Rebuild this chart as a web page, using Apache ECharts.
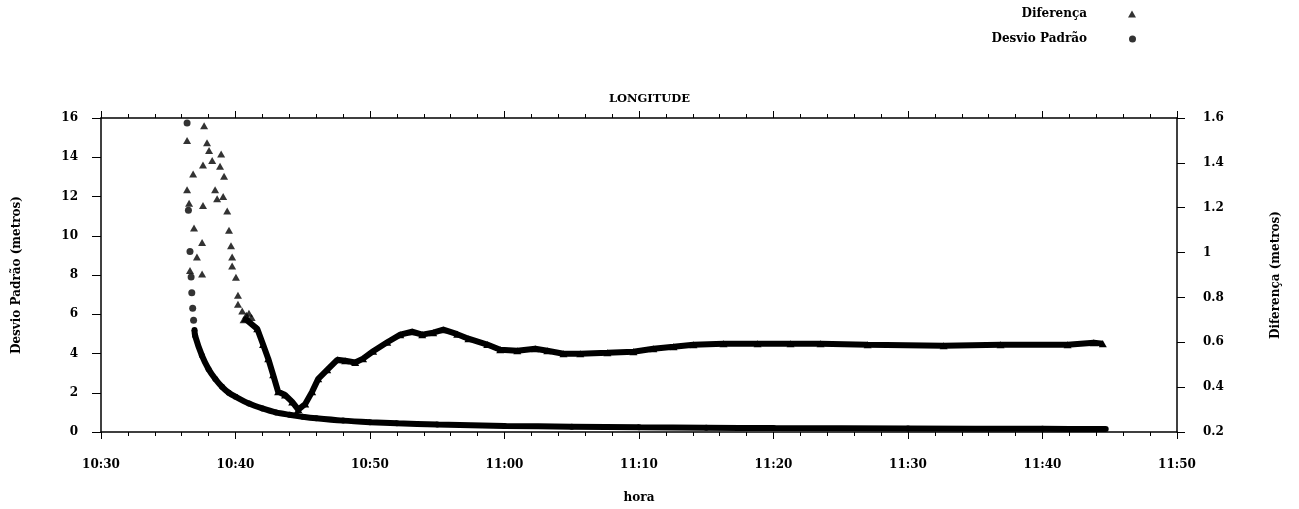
<!DOCTYPE html>
<html><head><meta charset="utf-8">
<script src="https://cdn.jsdelivr.net/npm/echarts@6/dist/echarts.min.js"></script>
<style>html,body{margin:0;padding:0;background:#fff}#c{width:1299px;height:509px}</style>
</head><body><div id="c"></div>
<script>
const chartTitle = 'LONGITUDE';
const xName = 'hora';
const leftName = 'Desvio Padrão (metros)';
const rightName = 'Diferença (metros)';
const seriesNames = ['Diferença', 'Desvio Padrão'];

// Diferença (right axis) - early scattered points
const difScatterTimes = ['10:36:24','10:36:24','10:36:33','10:36:37','10:36:51','10:36:55','10:37:08','10:37:31','10:37:31','10:37:35','10:37:35','10:37:40','10:37:53','10:38:02','10:38:16','10:38:29','10:38:38','10:38:51','10:38:56','10:39:05','10:39:09','10:39:23','10:39:31','10:39:40','10:39:45','10:39:45','10:40:02','10:40:11','10:40:11','10:40:30','10:40:36','10:40:48','10:41:00','10:41:12'];
const difScatterValues = [1.50,1.28,1.22,0.92,1.35,1.11,0.98,1.045,0.905,1.39,1.21,1.565,1.49,1.455,1.41,1.28,1.24,1.385,1.44,1.25,1.34,1.185,1.10,1.03,0.98,0.94,0.89,0.81,0.77,0.74,0.70,0.72,0.73,0.71];
// Diferença - continuous band
const difLineTimes = ['10:40:43','10:41:37','10:42:03','10:42:26','10:42:48','10:43:10','10:43:41','10:44:13','10:44:40','10:45:11','10:45:42','10:46:09','10:46:49','10:47:34','10:48:09','10:48:54','10:49:29','10:50:14','10:51:17','10:52:15','10:53:08','10:53:53','10:54:42','10:55:27','10:56:29','10:57:19','10:58:43','10:59:41','11:00:57','11:02:17','11:03:11','11:04:23','11:05:38','11:07:39','11:09:35','11:11:04','11:12:34','11:14:03','11:16:17','11:18:49','11:21:16','11:23:30','11:27:00','11:32:39','11:36:53','11:41:52','11:43:49','11:44:29'];
const difLineValues = [0.705,0.66,0.59,0.527,0.455,0.38,0.365,0.334,0.30,0.325,0.38,0.437,0.477,0.522,0.518,0.51,0.527,0.56,0.60,0.634,0.647,0.634,0.643,0.656,0.636,0.616,0.59,0.567,0.562,0.571,0.562,0.549,0.549,0.553,0.558,0.571,0.58,0.589,0.594,0.594,0.594,0.594,0.589,0.585,0.589,0.589,0.598,0.594];

// Desvio Padrão (left axis) - early scattered points
const dpScatterTimes = ['10:36:24','10:36:30','10:36:37','10:36:42','10:36:45','10:36:49','10:36:53'];
const dpScatterValues = [15.75,11.3,9.2,7.9,7.1,6.3,5.7];
// Desvio Padrão - continuous band
const dpLineTimes = ['10:36:57','10:37:00','10:37:30','10:38:00','10:38:30','10:39:00','10:39:30','10:40:00','10:41:00','10:42:00','10:43:00','10:44:00','10:45:00','10:46:00','10:48:00','10:50:00','10:52:00','10:55:00','11:00:00','11:05:00','11:10:00','11:15:00','11:20:00','11:30:00','11:40:00','11:44:42'];
const dpLineValues = [5.2,4.9,3.9,3.2,2.7,2.3,2.0,1.8,1.45,1.2,1.0,0.88,0.78,0.7,0.58,0.5,0.44,0.38,0.31,0.27,0.24,0.22,0.2,0.18,0.16,0.15];

function toMin(s){const p=s.split(':').map(Number);return p[0]*60+p[1]+(p[2]||0)/60;}
function pairs(t,v){return t.map((s,i)=>[toMin(s),v[i]]);}
function fmt(v){const h=Math.floor(v/60+1e-9), m=Math.round(v-h*60);return h+':'+String(m).padStart(2,'0');}

const FONT = 'DejaVu Serif';
const txt = {fontFamily: FONT, fontWeight: 'bold', fontSize: 12, color: '#000'};
const axisLineStyle = {color:'#000', width:1.5};

const chart = echarts.init(document.getElementById('c'), null, {renderer:'canvas'});
chart.setOption({
  animation:false,
  backgroundColor:'#fff',
  title:{text:chartTitle, left:'center', top:88, textStyle:{...txt, fontSize:11.5}},
  legend:[
    {data:[{name:seriesNames[0], icon:'triangle'}], orient:'horizontal', align:'right', right:158, top:3,
     itemWidth:8, itemHeight:7, textStyle:{...txt, padding:[0,36,0,0]}, selectedMode:false},
    {data:[{name:seriesNames[1], icon:'circle'}], orient:'horizontal', align:'right', right:158, top:28,
     itemWidth:7, itemHeight:7, textStyle:{...txt, padding:[0,37,0,0]}, selectedMode:false}
  ],
  grid:{left:101, right:122, top:118, bottom:75},
  xAxis:[
    {type:'value', min:630, max:710, interval:10, position:'bottom',
     name:xName, nameLocation:'middle', nameGap:60, nameTextStyle:{...txt},
     axisLine:{onZero:false, lineStyle:axisLineStyle}, axisTick:{inside:false, length:7, lineStyle:{color:'#000'}},
     minorTick:{show:true, splitNumber:5, length:4, lineStyle:{color:'#000'}},
     axisLabel:{...txt, margin:27, formatter:fmt}, splitLine:{show:false}},
    {type:'value', min:630, max:710, interval:10, position:'top',
     axisLine:{onZero:false, lineStyle:axisLineStyle}, axisTick:{inside:false, length:7, lineStyle:{color:'#000'}},
     minorTick:{show:true, splitNumber:5, length:4, lineStyle:{color:'#000'}},
     axisLabel:{show:false}, splitLine:{show:false}}
  ],
  yAxis:[
    {type:'value', min:0, max:16, interval:2, position:'left',
     name:leftName, nameLocation:'middle', nameGap:78, nameRotate:90, nameTextStyle:{...txt},
     axisLine:{show:true, onZero:false, lineStyle:axisLineStyle}, axisTick:{show:true, length:9, lineStyle:{color:'#000'}},
     axisLabel:{...txt, margin:23}, splitLine:{show:false}},
    {type:'value', min:0.2, max:1.6, interval:0.2, position:'right',
     name:rightName, nameLocation:'middle', nameGap:93, nameRotate:90, nameTextStyle:{...txt},
     axisLine:{show:true, onZero:false, lineStyle:axisLineStyle}, axisTick:{show:true, length:8, lineStyle:{color:'#000'}},
     axisLabel:{...txt, margin:26}, splitLine:{show:false}}
  ],
  series:[
    {name:seriesNames[0], type:'scatter', yAxisIndex:1, symbol:'triangle', symbolSize:[8,7],
     itemStyle:{color:'#000'}, data:pairs(difScatterTimes, difScatterValues)},
    {name:seriesNames[0], type:'line', yAxisIndex:1, symbol:'triangle', symbolSize:[8,7], showAllSymbol:true,
     itemStyle:{color:'#000'}, lineStyle:{color:'#000', width:6}, data:pairs(difLineTimes, difLineValues)},
    {name:seriesNames[1], type:'scatter', yAxisIndex:0, symbol:'circle', symbolSize:7,
     itemStyle:{color:'#000'}, data:pairs(dpScatterTimes, dpScatterValues)},
    {name:seriesNames[1], type:'line', yAxisIndex:0, symbol:'circle', symbolSize:6, showAllSymbol:true, smooth:0.3,
     itemStyle:{color:'#000'}, lineStyle:{color:'#000', width:6}, data:pairs(dpLineTimes, dpLineValues)}
  ]
});
</script></body></html>
